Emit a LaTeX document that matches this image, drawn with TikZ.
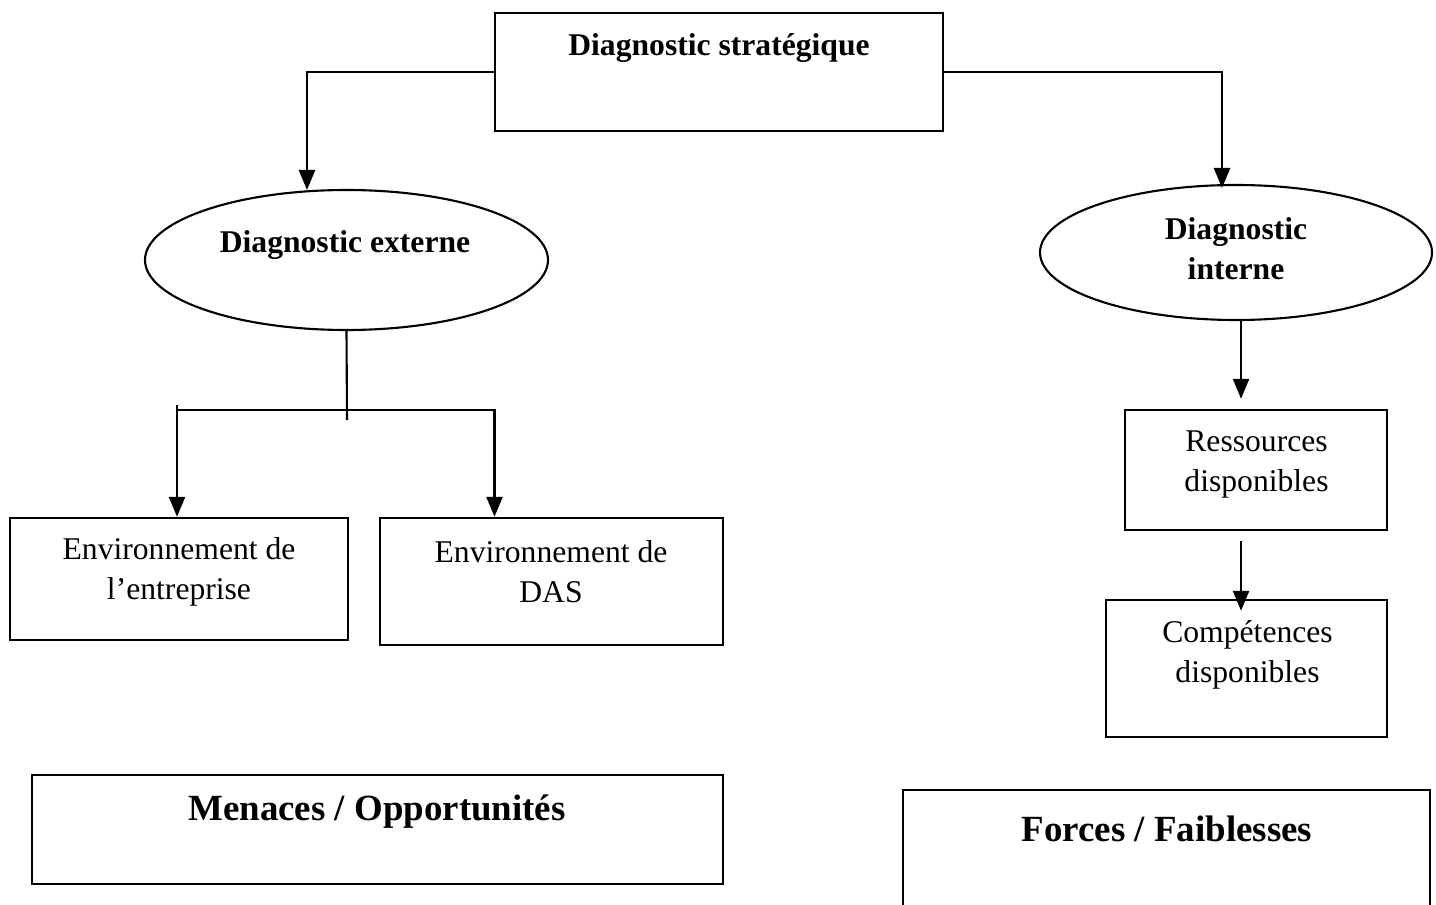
\documentclass[tikz,border=0pt]{standalone}
\usepackage{fontspec}
\setmainfont{Liberation Serif}
\usetikzlibrary{shapes.geometric,arrows.meta,calc}

\begin{document}
\begin{tikzpicture}[
    box/.style={draw, line width=0.7pt, rectangle, inner sep=0pt},
    oval/.style={draw, line width=0.6pt, ellipse, inner sep=0pt},
    arr/.style={line width=0.7pt, -{Triangle[length=0.2cm,width=0.16cm]}},
    txt/.style={font=\fontsize{9}{11.4}\selectfont, align=center},
    btxt/.style={font=\fontsize{9}{11.4}\selectfont\bfseries, align=center},
    big/.style={font=\fontsize{10.5}{12.6}\selectfont\bfseries}
]
    % Frame of the page
    \useasboundingbox (0,0) rectangle (14.36,-9.04);

    % Top box
    \node[box, minimum width=4.48cm, minimum height=1.18cm] (strat) at (7.19,-0.72) {};
    \node[btxt] (strattxt) at (7.19,-0.48) {Diagnostic stratégique};

    % Ellipses
    \node[oval, minimum width=4.03cm, minimum height=1.40cm] (ext) at (3.465,-2.60) {};
    \node[btxt] (exttxt) at (3.45,-2.45) {Diagnostic externe};
    \node[oval, minimum width=3.92cm, minimum height=1.35cm] (int) at (12.36,-2.525) {};
    \node[btxt] (inttxt) at (12.36,-2.49) {Diagnostic\\interne};

    % Boxes under the external side
    \node[box, minimum width=3.38cm, minimum height=1.22cm] (env1) at (1.79,-5.79) {};
    \node[txt] (env1txt) at (1.79,-5.72) {Environnement de\\l’entreprise};
    \node[box, minimum width=3.43cm, minimum height=1.27cm] (env2) at (5.515,-5.815) {};
    \node[txt] (env2txt) at (5.51,-5.72) {Environnement de\\DAS};

    % Boxes under the internal side
    \node[box, minimum width=2.62cm, minimum height=1.20cm] (res) at (12.56,-4.70) {};
    \node[txt] (restxt) at (12.565,-4.645) {Ressources\\disponibles};
    \node[box, minimum width=2.81cm, minimum height=1.37cm] (comp) at (12.465,-6.685) {};
    \node[txt] (comptxt) at (12.475,-6.55) {Compétences\\disponibles};

    % Results
    \node[box, minimum width=6.91cm, minimum height=1.09cm] (menace) at (3.775,-8.295) {};
    \node[big] (menacetxt) at (3.77,-8.12) {Menaces / Opportunités};
    \node[box, minimum width=5.27cm, minimum height=1.40cm] (forces) at (11.665,-8.60) {};
    \node[big] (forcestxt) at (11.67,-8.29) {Forces / Faiblesses};

    % Connectors
    \coordinate (extin) at (3.07,-1.90);
    \coordinate (intin) at (12.22,-1.88);
    \coordinate (split) at (3.47,-4.10);
    \draw[arr] (strat.west) -| (extin);
    \draw[arr] (strat.east) -| (intin);
    \draw[line width=0.6pt] (ext.south) -- ($(split)+(0,-0.1)$);
    \draw[arr] (split) -| ($(env1.north)+(-0.02,0)$);
    \draw[arr] (split) -| ($(env2.north)+(-0.57,0)$);
    \draw[line width=0.7pt] ($(split)+(-1.70,0.05)$) -- ($(split)+(-1.70,0)$);
    \draw[arr] ($(int.south)+(0.05,0)$) -- ($(res.north -| int.south)+(0.05,0.1)$);
    \draw[arr] ($(res.south -| int.south)+(0.05,-0.1)$) -- ($(comp.north -| int.south)+(0.05,-0.12)$);
\end{tikzpicture}
\end{document}
